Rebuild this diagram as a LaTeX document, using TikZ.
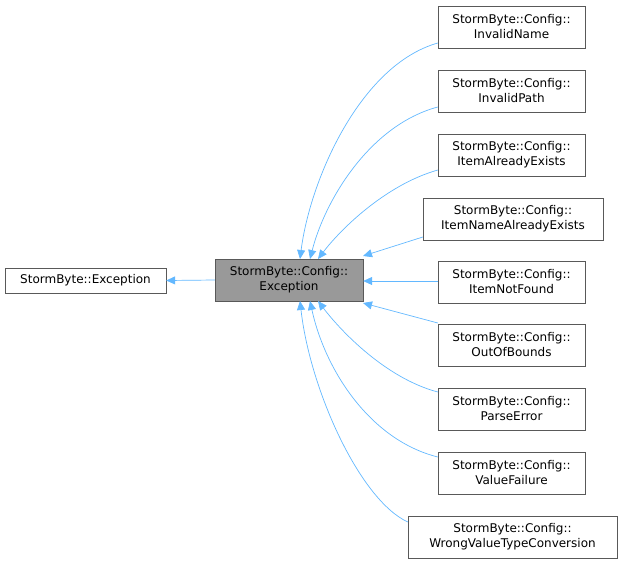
\documentclass[tikz,border=0pt]{standalone}
\usepackage{fontspec}
\setmainfont{DejaVu Sans}
\usetikzlibrary{arrows.meta}
\begin{document}
\begin{tikzpicture}[x=1pt,y=-1pt,
  box/.style={draw=black!65,fill=white,inner sep=0pt,minimum height=42pt,align=center,font=\fontsize{12}{15}\selectfont},
  one/.style={box,minimum height=25pt},
  e/.style={color={rgb,255:red,99;green,184;blue,255},line width=0.7pt,-{Triangle[length=9pt,width=8pt]}}]
\useasboundingbox (0,0) rectangle (620,563);
\node[one,minimum width=161pt] (se) at (85.5,280.5) {StormByte::Exception};
\node[box,minimum width=148pt,fill={rgb,255:red,153;green,153;blue,153}] (ce) at (289,280) {StormByte::Config::\\Exception};
\node[box,minimum width=147pt] (n1) at (511.5,27) {StormByte::Config::\\InvalidName};
\node[box,minimum width=147pt] (n2) at (511.5,91) {StormByte::Config::\\InvalidPath};
\node[box,minimum width=147pt] (n3) at (511.5,155) {StormByte::Config::\\ItemAlreadyExists};
\node[box,minimum width=180pt] (n4) at (513,219) {StormByte::Config::\\ItemNameAlreadyExists};
\node[box,minimum width=147pt] (n5) at (511.5,282) {StormByte::Config::\\ItemNotFound};
\node[box,minimum width=147pt] (n6) at (511.5,345) {StormByte::Config::\\OutOfBounds};
\node[box,minimum width=147pt] (n7) at (511.5,409) {StormByte::Config::\\ParseError};
\node[box,minimum width=147pt] (n8) at (511.5,473) {StormByte::Config::\\ValueFailure};
\node[box,minimum width=209pt] (n9) at (512.5,537) {StormByte::Config::\\WrongValueTypeConversion};
\draw[e] (ce.west) -- (se.east);
\draw[e] (n1.west|-0,43) .. controls (360,65) and (310,180) .. (300,259);
\draw[e] (n2.west|-0,107) .. controls (370,125) and (325,200) .. (310,259);
\draw[e] (n3.west|-0,170) .. controls (385,185) and (340,230) .. (318,259);
\draw[e] (n4.west|-0,237) -- (363,256);
\draw[e] (n5.west|-0,281) -- (ce.east|-0,281);
\draw[e] (n6.west|-0,323) -- (363,303);
\draw[e] (n7.west|-0,392) .. controls (385,378) and (340,330) .. (318,301);
\draw[e] (n8.west|-0,457) .. controls (370,440) and (325,370) .. (310,301);
\draw[e] (n9.west|-0,522) .. controls (360,500) and (310,390) .. (300,301);
\end{tikzpicture}
\end{document}
